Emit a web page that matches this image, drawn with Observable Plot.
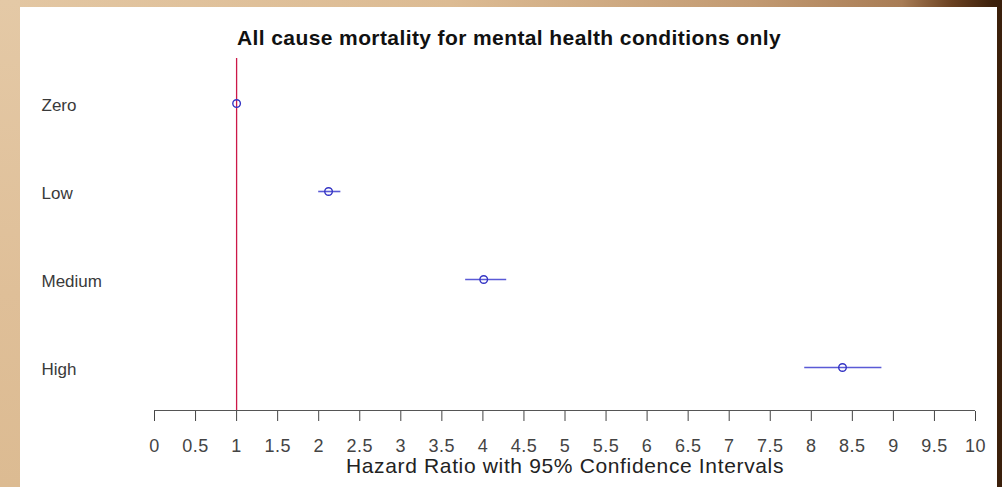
<!DOCTYPE html>
<html>
<head>
<meta charset="utf-8">
<script src="https://cdn.jsdelivr.net/npm/d3@7"></script>
<script src="https://cdn.jsdelivr.net/npm/@observablehq/plot@0.6"></script>
<style>
  html, body { margin: 0; padding: 0; }
  body {
    width: 1002px; height: 487px; overflow: hidden; position: relative;
    background: linear-gradient(to right, #e3c7a3 0%, #dcbb93 45%, #c29a72 75%, #a87c55 90%, #6a4121 95%, #3e210c 99%, #3a1f0b 100%);
  }
  #leftstrip { position: absolute; left: 0; top: 0; width: 20px; height: 487px;
    background: linear-gradient(to bottom, #e4c9a6, #dfbf98 60%, #dcbb92); }
  #chart { position: absolute; left: 20px; top: 7px; }
  #chart svg { display: block; }
  g[aria-label="x-axis tick label"] text { letter-spacing: 0.5px; }
</style>
</head>
<body>
<div id="leftstrip"></div>
<div id="chart"></div>
<script>
const chartTitle = "All cause mortality for mental health conditions only";
const xLabel = "Hazard Ratio with 95% Confidence Intervals";
const categories = ["Zero", "Low", "Medium", "High"];
const hazard = [1.0, 2.12, 4.01, 8.38];
const lower = [1.0, 2.0, 3.79, 7.92];
const upper = [1.0, 2.27, 4.29, 8.86];
const xTicks = [0, 0.5, 1, 1.5, 2, 2.5, 3, 3.5, 4, 4.5, 5, 5.5, 6, 6.5, 7, 7.5, 8, 8.5, 9, 9.5, 10];
const referenceLine = [1];

const rows = categories.map((c, i) => ({cat: c, hr: hazard[i], lo: lower[i], hi: upper[i]}));

const plot = Plot.plot({
  width: 977,
  height: 480,
  marginTop: 51,
  marginBottom: 76,
  marginLeft: 134,
  marginRight: 22,
  style: {background: "white", fontFamily: "'Liberation Sans', Arial, sans-serif", overflow: "visible"},
  x: {domain: [0, 10], range: [134, 955]},
  y: {type: "point", domain: categories, range: [95, 361], padding: 0},
  marks: [
    Plot.ruleX(referenceLine, {stroke: "#cc1848", strokeWidth: 1.3}),
    Plot.ruleY([categories[categories.length - 1]], {x1: xTicks[0], x2: xTicks[xTicks.length - 1], dy: 43, stroke: "#555", strokeWidth: 1.2}),
    Plot.axisX({ticks: xTicks, tickFormat: d => String(d), tickSize: 10, tickPadding: 17.5, fontSize: 18, color: "#444", label: null}),
    Plot.axisY({tickSize: 0, tickPadding: 113, textAnchor: "start", fontSize: 17, color: "#3a3a3a", label: null, dy: 2}),
    Plot.ruleY(rows, {y: "cat", x1: "lo", x2: "hi", stroke: "#5a5ad6", strokeWidth: 1.6}),
    Plot.dot(rows, {x: "hr", y: "cat", r: 3.8, stroke: "#3434c4", strokeWidth: 1.4, fill: "none"}),
    Plot.text([chartTitle], {frameAnchor: "top", dx: -56, dy: -20.5, lineAnchor: "middle", fontSize: 21, fontWeight: "bold", fill: "#111"}),
    Plot.text([xLabel], {frameAnchor: "bottom", dy: 55, lineAnchor: "middle", fontSize: 21, fill: "#222"})
  ]
});
d3.select(plot).selectAll("text").each(function() {
  if (this.textContent === chartTitle) this.style.letterSpacing = "0.4px";
  if (this.textContent === xLabel) this.style.letterSpacing = "0.65px";
});
document.getElementById("chart").appendChild(plot);
</script>
</body>
</html>
